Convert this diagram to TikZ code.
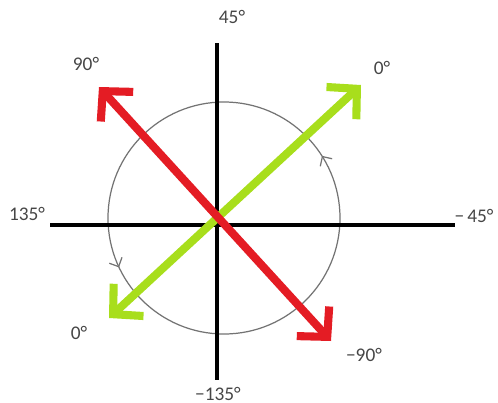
\documentclass[tikz,border=0pt]{standalone}
\usepackage{fontspec}
\setmainfont{Carlito}
\usetikzlibrary{arrows.meta, decorations.markings}
\definecolor{arrowred}{RGB}{228,28,36}
\definecolor{arrowgreen}{RGB}{168,222,28}
\definecolor{labelgray}{RGB}{70,70,70}

\begin{document}
\begin{tikzpicture}[
    x=0.02cm, y=-0.02cm,
    >={Straight Barb[length=12pt, width=25pt]},
    every node/.style={text=labelgray, font=\fontsize{11}{12}\selectfont, inner sep=1pt},
    axis_line/.style={line width=2.3pt, black},
    phasor/.style={<->, line width=4.6pt, line join=round}
]
\useasboundingbox (0,0) rectangle (498,403);

\node (label_top) at (232,17) {45°};
\node (label_red_up) at (86,64) {90°};
\node (label_green_up) at (382,68) {0°};
\node (label_left) at (27,214) {135°};
\node (label_right) at (474,216) {−\,45°};
\node (label_green_down) at (79,333) {0°};
\node (label_red_down) at (364,355) {−90°};
\node (label_bottom) at (218,394) {−135°};

\coordinate (axis_west) at (50,225);
\coordinate (axis_east) at (455,225);
\coordinate (axis_north) at (217,43);
\coordinate (axis_south) at (217,380);
\coordinate (circle_mid) at (224,218);
\coordinate (red_tip_up) at (99,87);
\coordinate (red_tip_down) at (331,341);
\coordinate (green_tip_up) at (361,85);
\coordinate (green_tip_down) at (109,318);

%\coordinate (origin) at (217,225);
\draw[gray!90!black, line width=0.7pt,
    decoration={markings,
        mark=at position 0.09 with {\arrow{Straight Barb[length=4pt, width=8pt]}},
        mark=at position 0.57 with {\arrow{Straight Barb[length=4pt, width=8pt]}}},
    postaction={decorate}] (circle_mid) ++(116,0) arc[start angle=0, end angle=-360, radius=116];
\draw[axis_line] (axis_west) -- (axis_east);
\draw[axis_line] (axis_north) -- (axis_south);
\draw[phasor, arrowgreen] (green_tip_down) -- (green_tip_up);
\draw[phasor, arrowred] (red_tip_up) -- (red_tip_down);
\end{tikzpicture}
\end{document}
